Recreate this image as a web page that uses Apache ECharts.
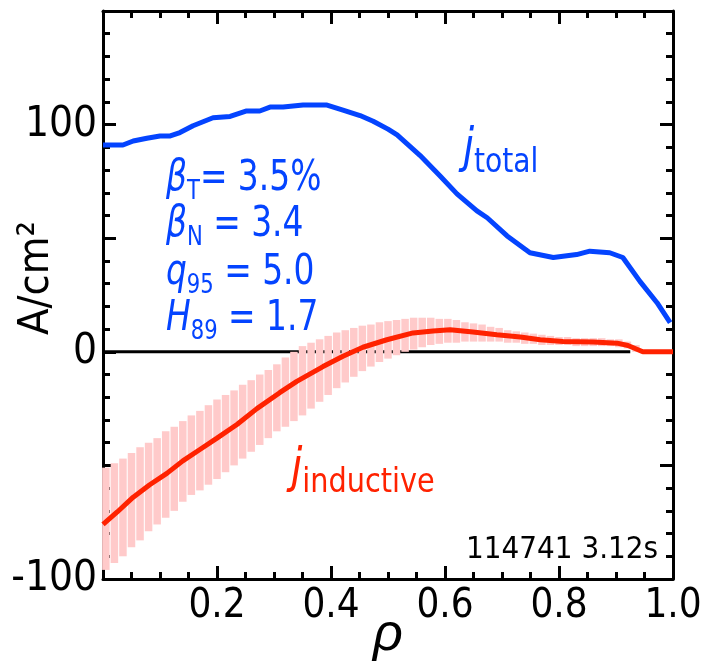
<!DOCTYPE html>
<html>
<head>
<meta charset="utf-8">
<script src="https://cdn.jsdelivr.net/npm/echarts@6/dist/echarts.min.js"></script>
<style>
  html, body { margin: 0; padding: 0; background: #fff; }
  #chart { width: 704px; height: 667px; }
</style>
</head>
<body>
<div id="chart"></div>
<script>
// total current density profile (blue)
const totalRho = [0.0, 0.035, 0.053, 0.077, 0.1, 0.118, 0.135, 0.158, 0.193, 0.223, 0.252, 0.275, 0.293, 0.316, 0.351, 0.393, 0.421, 0.451, 0.474, 0.5, 0.516, 0.556, 0.591, 0.621, 0.656, 0.674, 0.709, 0.749, 0.79, 0.831, 0.854, 0.889, 0.912, 0.942, 0.972, 0.995];
const totalJ = [91, 91, 92.8, 94, 95, 95, 96.5, 99.5, 103, 103.6, 106, 106, 107.7, 107.7, 108.6, 108.6, 106.4, 104, 101.5, 98, 95.5, 86.5, 77.5, 69.5, 62, 59, 51, 43.6, 41.5, 42.8, 44.3, 43.6, 41.5, 31, 21.6, 12.8];

// inductive current density profile (red)
const indRho = [0.0, 0.025, 0.053, 0.082, 0.112, 0.14, 0.17, 0.2, 0.235, 0.27, 0.31, 0.34, 0.386, 0.421, 0.456, 0.498, 0.544, 0.579, 0.609, 0.649, 0.691, 0.732, 0.767, 0.807, 0.86, 0.902, 0.921, 0.947, 1.0];
const indJ = [-76, -70.5, -64, -58.5, -53.5, -48, -43, -38, -32, -25, -18, -13, -6.5, -2, 2, 5.3, 8.3, 9.2, 9.7, 8.7, 7.5, 6.5, 5.3, 4.5, 4.3, 3.8, 2.8, 0, 0];

// error bars on the inductive profile
const errRho = [0.005, 0.02, 0.035, 0.05, 0.065, 0.08, 0.095, 0.11, 0.125, 0.14, 0.155, 0.17, 0.185, 0.2, 0.215, 0.23, 0.245, 0.26, 0.275, 0.29, 0.305, 0.32, 0.335, 0.35, 0.365, 0.38, 0.395, 0.41, 0.425, 0.44, 0.455, 0.47, 0.485, 0.5, 0.515, 0.53, 0.545, 0.56, 0.575, 0.59, 0.605, 0.62, 0.635, 0.65, 0.665, 0.68, 0.695, 0.71, 0.725, 0.74, 0.755, 0.77, 0.785, 0.8, 0.815, 0.83, 0.845, 0.86, 0.875, 0.89, 0.905, 0.92, 0.935];
const errHigh = [-51, -49, -47, -44.5, -42, -40, -38, -35, -33, -30.5, -28, -26, -23.5, -21, -19, -17, -14.5, -12.5, -10, -8, -5.5, -2.5, 0, 2.5, 4, 5.5, 7, 8.5, 9.5, 10.5, 11.5, 12, 13, 13.5, 14, 14.5, 15, 15, 15, 14.5, 14.5, 14, 13, 12.5, 12, 11, 10.5, 9.5, 9, 8.5, 8, 7.5, 7, 6.5, 6.5, 6, 6, 6, 6, 5.5, 5.5, 4.5, 3];
const errLow = [-96, -93, -90, -86, -83, -79, -76, -73, -70, -66, -63, -61, -58.5, -56, -53, -50, -47, -44, -41, -38, -35, -33, -30.5, -28, -25, -22, -19, -16, -13.5, -11, -8.5, -6.5, -4.5, -3, -1.5, 0, 1, 2, 3, 3.5, 4, 4, 4.5, 4.5, 4.5, 4.5, 4.5, 4, 4, 3.5, 3.5, 3, 3, 3, 3, 2.5, 2.5, 2.5, 2.5, 2.5, 2, 1.5, 0];

// zero reference line stops short of the edge
const zeroRho = [0, 0.925];

// axis ticks
const xTicks = { min: 0, max: 1, interval: 0.2 };
const yTicks = { min: -100, max: 150, interval: 50 };
const yLabelled = [-100, 0, 100];

const FONT = "'DejaVu Sans Condensed', 'Liberation Sans', sans-serif";
const BLUE = "#0444ff";
const RED = "#ff2200";
const PINK = "#ffcaca";

const chart = echarts.init(document.getElementById("chart"));

const frameAxis = {
  axisLine: { show: true, onZero: false, lineStyle: { color: "#000", width: 3 } },
  axisTick: { show: true, inside: true, length: 13, lineStyle: { color: "#000", width: 3 } },
  minorTick: { show: true, length: 7, lineStyle: { color: "#000", width: 3 } },
  splitLine: { show: false },
};

// rich text styles for the annotations
function richFor(color, big, small, drop) {
  return {
    it: { fontFamily: FONT, fontSize: big, fontStyle: "italic", fill: color, color: color, lineHeight: big + 2, padding: [0, 0, drop, 0] },
    n: { fontFamily: FONT, fontSize: big, fill: color, color: color, lineHeight: big + 2, padding: [0, 0, drop, 0] },
    s: { fontFamily: FONT, fontSize: small, fill: color, color: color, lineHeight: small + 3, verticalAlign: "bottom" },
  };
}
const annoRich = richFor(BLUE, 42, 27, 8);

// squeeze horizontally, the original lettering is a condensed face
function annoLine(text, top) {
  return { type: "text", left: 166, top: top, scaleX: 0.87, z: 50, style: { text: text, rich: annoRich } };
}

const option = {
  animation: false,
  grid: { left: 103, right: 31, top: 11, bottom: 88, containLabel: false, outerBoundsMode: "none" },
  xAxis: [
    Object.assign({}, frameAxis, {
      type: "value",
      min: xTicks.min,
      max: xTicks.max,
      interval: xTicks.interval,
      minorTick: Object.assign({}, frameAxis.minorTick, { splitNumber: 4 }),
      axisLabel: {
        margin: 8,
        color: "#000",
        fontFamily: FONT,
        fontSize: 40,
        formatter: v => (v === 0 ? "" : v.toFixed(1)),
      },
      name: "ρ",
      nameLocation: "middle",
      nameGap: 31,
      nameMoveOverlap: false,
      nameTextStyle: { fontFamily: "'Liberation Sans', sans-serif", fontSize: 52, fontStyle: "italic", color: "#000" },
    }),
    Object.assign({}, frameAxis, {
      type: "value",
      position: "top",
      min: xTicks.min,
      max: xTicks.max,
      interval: xTicks.interval,
      minorTick: Object.assign({}, frameAxis.minorTick, { splitNumber: 4 }),
      axisLabel: { show: false },
    }),
  ],
  yAxis: [
    Object.assign({}, frameAxis, {
      type: "value",
      min: yTicks.min,
      max: yTicks.max,
      interval: yTicks.interval,
      minorTick: Object.assign({}, frameAxis.minorTick, { splitNumber: 5 }),
      axisLabel: {
        margin: 6,
        color: "#000",
        fontFamily: FONT,
        fontSize: 42,
        formatter: v => (yLabelled.indexOf(v) >= 0 ? String(v) : ""),
      },
    }),
    Object.assign({}, frameAxis, {
      type: "value",
      position: "right",
      min: yTicks.min,
      max: yTicks.max,
      interval: yTicks.interval,
      minorTick: Object.assign({}, frameAxis.minorTick, { splitNumber: 5 }),
      axisLabel: { show: false },
    }),
  ],
  graphic: [
    {
      type: "text",
      left: 15,
      top: 221,
      rotation: Math.PI / 2,
      z: 50,
      style: { text: "A/cm²", fontFamily: FONT, fontSize: 43, fill: "#000" },
    },
    annoLine("{it|β}{s|T}{n|= 3.5%}", 158),
    annoLine("{it|β}{s|N}{n| = 3.4}", 204),
    annoLine("{it|q}{s|95}{n| = 5.0}", 252),
    annoLine("{it|H}{s|89}{n| = 1.7}", 298),
    {
      type: "text",
      left: 463,
      top: 126,
      scaleX: 0.92,
      z: 50,
      style: { text: "{it|j}{s|total}", rich: richFor(BLUE, 48, 34, 10) },
    },
    {
      type: "text",
      left: 291,
      top: 446,
      scaleX: 0.94,
      z: 50,
      style: { text: "{it|j}{s|inductive}", rich: richFor(RED, 48, 34, 10) },
    },
    {
      type: "text",
      right: 46,
      top: 534,
      z: 50,
      style: { text: "114741 3.12s", fontFamily: FONT, fontSize: 31, fill: "#000" },
    },
  ],
  series: [
    {
      name: "zero",
      type: "line",
      data: zeroRho.map(r => [r, 0]),
      symbol: "none",
      lineStyle: { color: "#000", width: 3 },
      z: 1,
    },
    {
      name: "error",
      type: "custom",
      data: errRho.map((r, i) => [r, errLow[i], errHigh[i]]),
      encode: { x: 0, y: [1, 2] },
      renderItem: function (params, api) {
        const top = api.coord([api.value(0), api.value(2)]);
        const bot = api.coord([api.value(0), api.value(1)]);
        return {
          type: "rect",
          shape: { x: top[0] - 3.75, y: top[1], width: 7.5, height: bot[1] - top[1] },
          style: { fill: PINK },
        };
      },
      z: 2,
    },
    {
      name: "j inductive",
      type: "line",
      data: indRho.map((r, i) => [r, indJ[i]]),
      symbol: "none",
      lineStyle: { color: RED, width: 5 },
      z: 3,
    },
    {
      name: "j total",
      type: "line",
      data: totalRho.map((r, i) => [r, totalJ[i]]),
      symbol: "none",
      lineStyle: { color: BLUE, width: 5 },
      z: 4,
    },
  ],
};

chart.setOption(option);
</script>
</body>
</html>
